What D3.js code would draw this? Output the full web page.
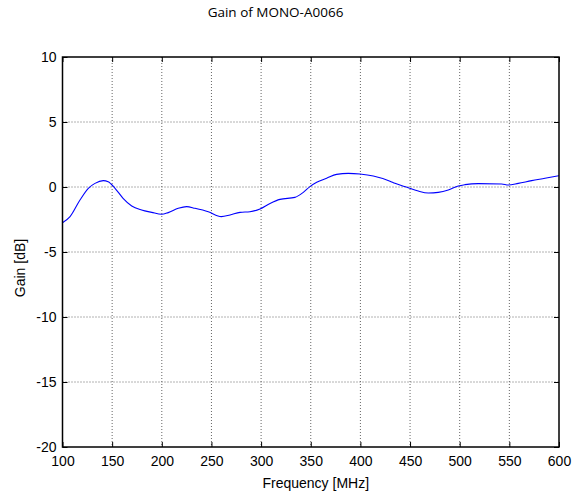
<!DOCTYPE html>
<html><head><meta charset="utf-8">
<script src="https://cdn.jsdelivr.net/npm/d3@7/dist/d3.min.js"></script>
<style>body{margin:0;background:#fff}svg{display:block}</style>
</head><body>
<svg id="c" width="584" height="491"></svg>
<script>
const freq = [100,107.6,117.6,126,132.7,141,146,152.9,161,169.7,179.7,189.8,199.9,206.5,216.6,225,233.4,246.8,260,268.7,278.8,288.8,298.9,309,319,334,342.5,349.2,356,366,376,387.8,399.6,413,429.8,434.8,448.2,458.3,468.4,478.4,488.5,498.6,505.3,518.7,542.3,549,559,572.5,585.9,600];
const gain = [-2.75,-2.28,-1.0,-0.1,0.28,0.49,0.41,-0.1,-0.87,-1.46,-1.77,-1.95,-2.1,-1.97,-1.64,-1.51,-1.64,-1.9,-2.28,-2.15,-1.95,-1.9,-1.69,-1.26,-0.95,-0.8,-0.41,0.03,0.36,0.67,0.97,1.05,1.0,0.85,0.45,0.28,-0.05,-0.31,-0.46,-0.41,-0.23,0.08,0.18,0.26,0.23,0.15,0.28,0.49,0.67,0.87];
const xTicks = [100,150,200,250,300,350,400,450,500,550,600];
const yTicks = [-20,-15,-10,-5,0,5,10];
const title = "Gain of MONO-A0066";
const xLabel = "Frequency [MHz]";
const yLabel = "Gain [dB]";

const L=62.5,R=559,T=57,B=447;
const svg=d3.select("#c");
const x=d3.scaleLinear().domain([100,600]).range([L,R]);
const y=d3.scaleLinear().domain([-20,10]).range([B,T]);
const font="Liberation Sans, Arial, sans-serif";
const fmt=d=>String(d);

// grid
svg.append("g").selectAll("line").data(xTicks.slice(1,-1)).join("line")
 .attr("x1",d=>x(d)).attr("x2",d=>x(d)).attr("y1",T).attr("y2",B)
 .attr("stroke","#666").attr("stroke-width",1).attr("stroke-dasharray","1,2");
svg.append("g").selectAll("line").data(yTicks.slice(1,-1)).join("line")
 .attr("y1",d=>y(d)).attr("y2",d=>y(d)).attr("x1",L).attr("x2",R)
 .attr("stroke","#666").attr("stroke-width",1).attr("stroke-dasharray","1,2");

// curve
svg.append("path").datum(freq.map((f,i)=>[f,gain[i]]))
 .attr("d",d3.line().x(d=>x(d[0])).y(d=>y(d[1])).curve(d3.curveMonotoneX))
 .attr("fill","none").attr("stroke","#0000ff").attr("stroke-width",1.1);

// axes with inner ticks
const tl=5;
const ax=d3.axisBottom(x).tickValues(xTicks).tickFormat(fmt).tickSize(-tl).tickPadding(tl+4).tickSizeOuter(0);
const gx=svg.append("g").attr("transform",`translate(0,${B})`).call(ax);
const axT=d3.axisTop(x).tickValues(xTicks).tickSize(-tl).tickFormat("").tickSizeOuter(0);
const gxt=svg.append("g").attr("transform",`translate(0,${T})`).call(axT);
const ay=d3.axisLeft(y).tickValues(yTicks).tickFormat(fmt).tickSize(-tl).tickPadding(tl+4).tickSizeOuter(0);
const gy=svg.append("g").attr("transform",`translate(${L},0)`).call(ay);
const ayR=d3.axisRight(y).tickValues(yTicks).tickSize(-tl).tickFormat("").tickSizeOuter(0);
const gyr=svg.append("g").attr("transform",`translate(${R},0)`).call(ayR);
[gx,gxt,gy,gyr].forEach(g=>{
 g.select(".domain").remove();
 g.selectAll(".tick line").attr("stroke","#000").attr("stroke-width",1);
 g.selectAll("text").attr("font-family",font).attr("font-size",14).attr("fill","#000");
});
gx.selectAll("text").attr("dy","0.71em");
gy.selectAll("text").attr("dx","3");

// box
svg.append("rect").attr("x",L).attr("y",T).attr("width",R-L).attr("height",B-T)
 .attr("fill","none").attr("stroke","#000").attr("stroke-width",1.5);

// labels
svg.append("text").attr("x",275.5).attr("y",17).attr("text-anchor","middle")
 .attr("font-family","Open Sans, sans-serif").attr("font-size",13.5).text(title);
svg.append("text").attr("x",(L+R)/2+5).attr("y",488).attr("text-anchor","middle")
 .attr("font-family",font).attr("font-size",14).text(xLabel);
svg.append("text").attr("transform","translate(25,268) rotate(-90)").attr("text-anchor","middle")
 .attr("font-family",font).attr("font-size",14).text(yLabel);
</script>
</body></html>
